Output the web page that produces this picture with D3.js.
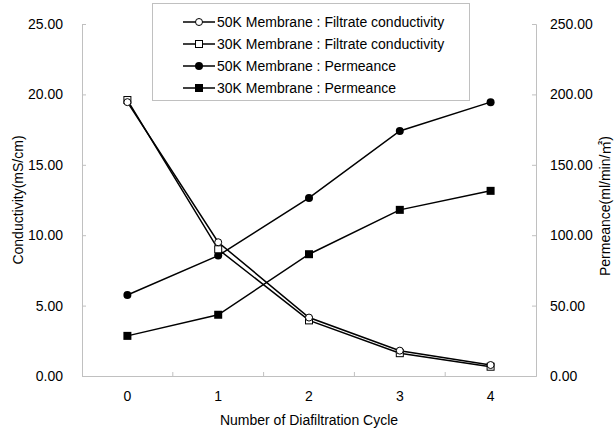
<!DOCTYPE html>
<html>
<head>
<meta charset="utf-8">
<script src="https://cdn.jsdelivr.net/npm/d3@7"></script>
<style>
  body { margin: 0; background: #fff; }
  svg text { font-family: "Liberation Sans", Arial, "Noto Sans CJK KR", sans-serif; fill: #000; }
</style>
</head>
<body>
<svg id="chart" width="615" height="429"></svg>
<script>
// données du graphique
const cycles = ["0", "1", "2", "3", "4"];
const cond50K = [19.45, 9.5, 4.15, 1.8, 0.78];
const cond30K = [19.6, 9.0, 3.95, 1.62, 0.66];
const perm50K = [57.5, 85.5, 126.5, 174, 194.5];
const perm30K = [28.5, 43.5, 86.5, 118, 131.5];
const condTicks = [0, 5, 10, 15, 20, 25];
const permTicks = [0, 50, 100, 150, 200, 250];
const legendLabels = [
  "50K Membrane : Filtrate conductivity",
  "30K Membrane : Filtrate conductivity",
  "50K Membrane : Permeance",
  "30K Membrane : Permeance"
];

const svg = d3.select("#chart");
const plotLeft = 82, plotRight = 536, plotTop = 24, plotBottom = 376;

const x = d3.scaleBand().domain(cycles).range([plotLeft, plotRight]);
const yL = d3.scaleLinear().domain([0, 25]).range([plotBottom, plotTop]);
const yR = d3.scaleLinear().domain([0, 250]).range([plotBottom, plotTop]);

// axes
const axisColor = "#c0c0c0";
const gL = svg.append("g").attr("transform", "translate(" + plotLeft + ",0)")
  .call(d3.axisLeft(yL).tickValues(condTicks).tickSize(-4).tickPadding(19).tickFormat(d3.format(".2f")));
const gR = svg.append("g").attr("transform", "translate(" + plotRight + ",0)")
  .call(d3.axisRight(yR).tickValues(permTicks).tickSize(-4).tickPadding(14).tickFormat(d3.format(".2f")));
const gB = svg.append("g").attr("transform", "translate(0," + plotBottom + ")")
  .call(d3.axisBottom(x).tickSize(0).tickPadding(15));

[gL, gR, gB].forEach(function(g) {
  g.select(".domain").attr("stroke", axisColor);
  g.selectAll(".tick line").attr("stroke", axisColor);
  g.selectAll("text").style("font-size", "14px");
});

// séparateurs de l'axe des x
svg.append("g").selectAll("line")
  .data(cycles.slice(1))
  .enter().append("line")
  .attr("x1", function(d){ return x(d); })
  .attr("x2", function(d){ return x(d); })
  .attr("y1", plotBottom).attr("y2", plotBottom - 4)
  .attr("stroke", axisColor);

// titres des axes
svg.append("text").attr("transform", "translate(18," + ((plotTop + plotBottom) / 2) + ") rotate(-90)")
  .attr("text-anchor", "middle").attr("dy", "0.35em").style("font-size", "14px")
  .text("Conductivity(mS/cm)");
svg.append("text").attr("transform", "translate(605," + ((plotTop + plotBottom) / 2 + 6) + ") rotate(-90)")
  .attr("text-anchor", "middle").attr("dy", "0.35em").style("font-size", "14px")
  .text("Permeance(ml/min/㎡)");
svg.append("text").attr("x", (plotLeft + plotRight) / 2).attr("y", 420)
  .attr("text-anchor", "middle").attr("dy", "0.35em").style("font-size", "14px")
  .text("Number of Diafiltration Cycle");

const cx = function(d, i){ return x(cycles[i]) + x.bandwidth() / 2; };

function drawSeries(values, scale, marker) {
  const line = d3.line().x(cx).y(function(d){ return scale(d); });
  svg.append("path").datum(values)
    .attr("d", line).attr("fill", "none").attr("stroke", "#000").attr("stroke-width", 1.5);
  const g = svg.append("g");
  values.forEach(function(v, i) {
    drawMarker(g, marker, cx(v, i), scale(v));
  });
}

function drawMarker(g, marker, px, py) {
  if (marker === "openCircle") {
    g.append("circle").attr("cx", px).attr("cy", py).attr("r", 3.5)
      .attr("fill", "#fff").attr("stroke", "#000").attr("stroke-width", 1);
  } else if (marker === "openSquare") {
    g.append("rect").attr("x", px - 3.5).attr("y", py - 3.5).attr("width", 7).attr("height", 7)
      .attr("fill", "#fff").attr("stroke", "#000").attr("stroke-width", 1);
  } else if (marker === "filledCircle") {
    g.append("circle").attr("cx", px).attr("cy", py).attr("r", 4).attr("fill", "#000");
  } else {
    g.append("rect").attr("x", px - 4).attr("y", py - 4).attr("width", 8).attr("height", 8).attr("fill", "#000");
  }
}

drawSeries(perm50K, yR, "filledCircle");
drawSeries(perm30K, yR, "filledSquare");
drawSeries(cond30K, yL, "openSquare");
drawSeries(cond50K, yL, "openCircle");

// légende
const markers = ["openCircle", "openSquare", "filledCircle", "filledSquare"];
const legend = svg.append("g");
legend.append("rect").attr("x", 152.5).attr("y", 3.5).attr("width", 317).attr("height", 97)
  .attr("fill", "#fff").attr("stroke", axisColor);
legendLabels.forEach(function(label, i) {
  const ly = 22 + i * 22;
  legend.append("line").attr("x1", 183).attr("x2", 215).attr("y1", ly).attr("y2", ly)
    .attr("stroke", "#000").attr("stroke-width", 1.5);
  drawMarker(legend, markers[i], 199, ly);
  legend.append("text").attr("x", 217).attr("y", ly).attr("dy", "0.35em")
    .style("font-size", "14px").text(label);
});
</script>
</body>
</html>
